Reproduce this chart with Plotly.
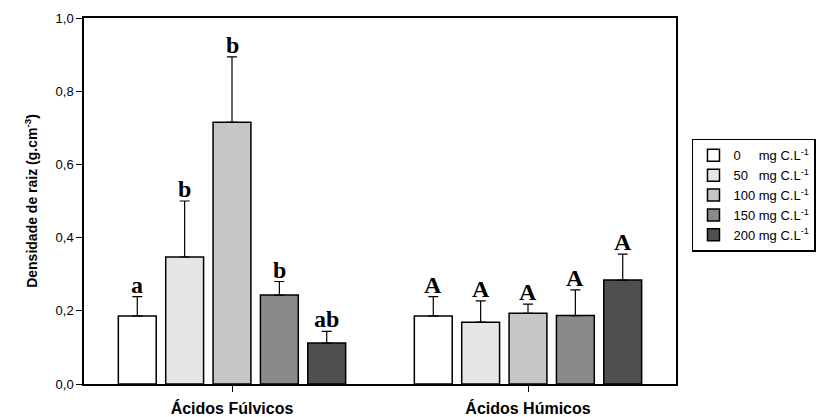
import plotly.graph_objects as go

# grupos no eixo x e doses de carbono (series)
grupos = ["Ácidos Fúlvicos", "Ácidos Húmicos"]
doses = ["0", "50", "100", "150", "200"]
legenda = [
    "0\u00a0\u00a0\u00a0\u00a0\u00a0mg C.L<sup>-1</sup>",
    "50\u00a0\u00a0\u00a0mg C.L<sup>-1</sup>",
    "100 mg C.L<sup>-1</sup>",
    "150 mg C.L<sup>-1</sup>",
    "200 mg C.L<sup>-1</sup>",
]

# médias e erros
media_fulvicos = [0.186, 0.347, 0.715, 0.243, 0.112]
erro_fulvicos = [0.053, 0.153, 0.179, 0.037, 0.032]
letras_fulvicos = ["a", "b", "b", "b", "ab"]

media_humicos = [0.186, 0.169, 0.193, 0.187, 0.284]
erro_humicos = [0.053, 0.058, 0.025, 0.070, 0.071]
letras_humicos = ["A", "A", "A", "A", "A"]

cores = ["#ffffff", "#e6e6e6", "#c6c6c6", "#8a8a8a", "#4f4f4f"]

fig = go.Figure()

for i, dose in enumerate(doses):
    fig.add_trace(go.Bar(
        x=grupos,
        y=[media_fulvicos[i], media_humicos[i]],
        name=legenda[i],
        marker=dict(color=cores[i], line=dict(color="black", width=1.5)),
        error_y=dict(
            type="data", symmetric=False,
            array=[erro_fulvicos[i], erro_humicos[i]],
            arrayminus=[0, 0],
            color="black", thickness=1.2, width=5,
        ),
    ))

# letras de significância acima das barras de erro
n = len(doses)
slot = 0.8 / n
for g, (medias, erros, letras) in enumerate([
    (media_fulvicos, erro_fulvicos, letras_fulvicos),
    (media_humicos, erro_humicos, letras_humicos),
]):
    for i in range(n):
        fig.add_annotation(
            x=g + (i - (n - 1) / 2) * slot,
            y=medias[i] + erros[i],
            xref="x", yref="y",
            text=letras[i],
            showarrow=False,
            yanchor="bottom",
            yshift=-3,
            font=dict(family="Liberation Serif", size=24, color="black", weight="bold"),
        )

# a página tem 8px de margem no body, compensado nas margens
fig.update_layout(
    width=833, height=417,
    margin=dict(l=76, r=165, t=10, b=41, autoexpand=False),
    plot_bgcolor="white",
    paper_bgcolor="white",
    barmode="group",
    bargap=0.2,
    bargroupgap=0.2,
    separators=",.",
    font=dict(family="Liberation Sans", color="black"),
    showlegend=True,
    legend=dict(
        x=1.027, y=0.67, xanchor="left", yanchor="top",
        bordercolor="black", borderwidth=1.5,
        font=dict(size=13, family="Liberation Sans"),
        traceorder="normal",
        itemwidth=30,
    ),
    xaxis=dict(
        automargin=False,
        showline=True, linecolor="black", linewidth=1.5, mirror=True,
        ticks="outside", ticklen=6, tickcolor="black",
        ticklabelstandoff=3,
        tickfont=dict(size=16, family="Liberation Sans", weight="bold"),
        range=[-0.5, 1.5],
    ),
    yaxis=dict(
        automargin=False,
        range=[0, 1.0],
        dtick=0.2,
        tickformat=".1f",
        showline=True, linecolor="black", linewidth=1.5, mirror=True,
        ticks="outside", ticklen=6, tickcolor="black",
        tickfont=dict(size=13),
        showgrid=False, zeroline=False,
        title=dict(
            text="Densidade de raiz (g.cm<sup>-3</sup>)",
            font=dict(size=14, weight="bold"),
        ),
    ),
)

fig.write_html("out.html")
